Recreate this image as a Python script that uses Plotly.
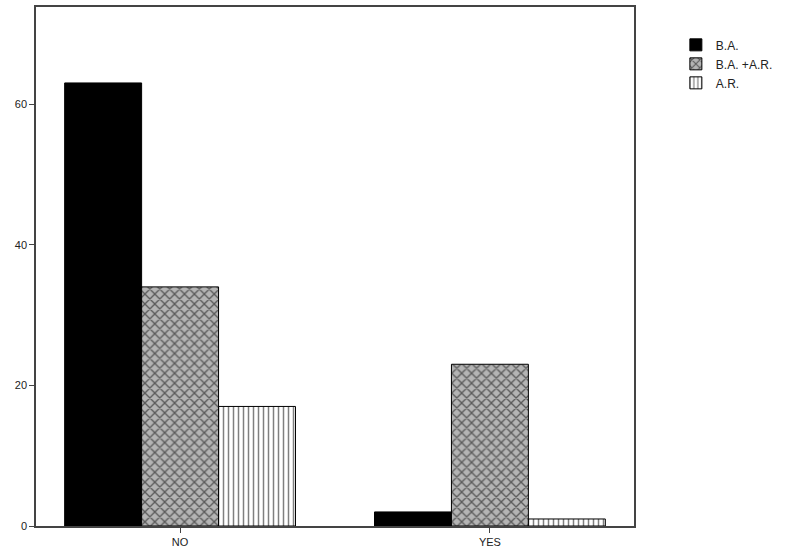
import plotly.graph_objects as go

categories = ["NO", "YES"]
series_names = ["B.A.", "B.A. +A.R.", "A.R."]
ba = [63, 2]
ba_ar = [34, 23]
ar = [17, 1]
y_ticks = [0, 20, 40, 60]

fig = go.Figure()
fig.add_trace(go.Bar(x=categories, y=ba, name=series_names[0],
                     marker=dict(color="black", line=dict(color="black", width=1))))
fig.add_trace(go.Bar(x=categories, y=ba_ar, name=series_names[1],
                     marker=dict(color="#b4b4b4", line=dict(color="black", width=1),
                                 pattern=dict(shape="x", fgcolor="black", bgcolor="#b4b4b4",
                                              size=7, solidity=0.35, fillmode="overlay"))))
fig.add_trace(go.Bar(x=categories, y=ar, name=series_names[2],
                     marker=dict(color="white", line=dict(color="black", width=1),
                                 pattern=dict(shape="|", fgcolor="black", bgcolor="white",
                                              size=5, solidity=0.3, fillmode="overlay"))))

fig.update_layout(
    width=791, height=555,
    margin=dict(l=36, r=157, t=7, b=29, autoexpand=False),
    barmode="group", bargap=0.255, bargroupgap=0,
    plot_bgcolor="white", paper_bgcolor="white",
    font=dict(family="Liberation Sans, Arial, sans-serif", size=11, color="#222"),
    showlegend=True,
    legend=dict(x=1.07, y=0.955, xanchor="left", yanchor="top",
                font=dict(size=12, color="#222"), itemwidth=30,
                tracegroupgap=0, bgcolor="rgba(0,0,0,0)"),
    xaxis=dict(range=[-0.465, 1.465], showline=True, linecolor="#444", linewidth=1.5,
               mirror=True, ticks="outside", ticklen=5, tickcolor="#444",
               showgrid=False, zeroline=False, automargin=False,
               tickfont=dict(color="#222", size=11)),
    yaxis=dict(range=[0, 73.8], tickvals=y_ticks, showline=True, linecolor="#444",
               linewidth=1.5, mirror=True, ticks="outside", ticklen=5, tickcolor="#444",
               showgrid=False, zeroline=False, automargin=False,
               tickfont=dict(color="#222", size=11)),
)

fig.write_html("out.html", config={"displayModeBar": False},
               post_script="document.body.style.margin='0';document.body.style.padding='0';")
